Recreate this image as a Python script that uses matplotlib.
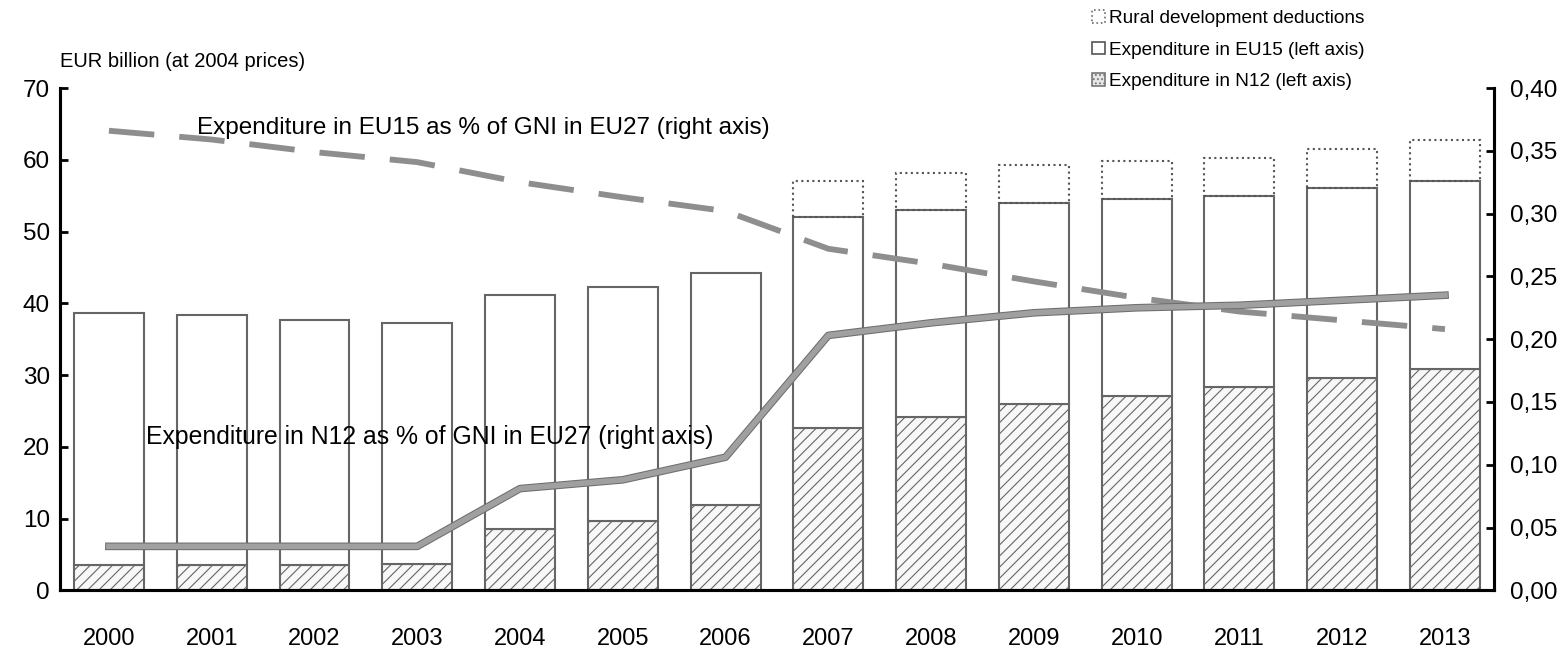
import matplotlib
matplotlib.use('Agg')
import matplotlib.pyplot as plt
from matplotlib.patches import Patch
from matplotlib import patheffects as pe
import numpy as np

years = ['2000', '2001', '2002', '2003', '2004', '2005', '2006',
         '2007', '2008', '2009', '2010', '2011', '2012', '2013']
# EUR billion, stacked: N12 at the bottom, EU15 on top, rural deductions above
n12_exp = [3.5, 3.5, 3.5, 3.7, 8.5, 9.7, 11.9, 22.6, 24.2, 25.9, 27.1, 28.3, 29.6, 30.8]
eu15_exp = [35.2, 34.8, 34.2, 33.5, 32.7, 32.6, 32.3, 29.4, 28.8, 28.1, 27.4, 26.7, 26.4, 26.2]
rural_ded = [0, 0, 0, 0, 0, 0, 0, 5.0, 5.2, 5.3, 5.3, 5.3, 5.5, 5.7]
# % of GNI in EU27 (right axis)
eu15_share = [0.366, 0.359, 0.349, 0.341, 0.325, 0.313, 0.302,
              0.272, 0.260, 0.246, 0.233, 0.222, 0.215, 0.208]
n12_share = [0.035, 0.035, 0.035, 0.035, 0.081, 0.088, 0.106,
             0.203, 0.213, 0.221, 0.225, 0.227, 0.231, 0.235]

left_ticks = [0, 10, 20, 30, 40, 50, 60, 70]
right_ticks = [0.0, 0.05, 0.10, 0.15, 0.20, 0.25, 0.30, 0.35, 0.40]
right_labels = ['0,00', '0,05', '0,10', '0,15', '0,20', '0,25', '0,30', '0,35', '0,40']

FONT = 'Liberation Sans'
EDGE = '#666666'
LINE = '#8e8e8e'


if __name__ == "__main__":
    plt.rcParams['font.family'] = [FONT, 'DejaVu Sans']
    plt.rcParams['hatch.color'] = '#d0d0d0'
    plt.rcParams['hatch.linewidth'] = 0.8

    fig = plt.figure(figsize=(15.68, 6.67), dpi=100)
    ax = fig.add_axes([0.038, 0.115, 0.915, 0.753])
    ax2 = ax.twinx()

    x = np.arange(len(years))
    n12 = np.array(n12_exp)
    eu15 = np.array(eu15_exp)
    rural = np.array(rural_ded)
    w = 0.68

    ax.bar(x, n12, w, color='#f8f8f8', edgecolor=EDGE, linewidth=1.5,
           hatch='///', zorder=2)
    ax.bar(x, eu15, w, bottom=n12, color='white', edgecolor=EDGE,
           linewidth=1.5, zorder=2)
    has_rd = rural > 0
    ax.bar(x[has_rd], rural[has_rd], w, bottom=(n12 + eu15)[has_rd],
           fill=False, edgecolor='#555555', linewidth=1.5, linestyle=':',
           zorder=2)

    ax.set_xlim(-0.48, len(years) - 0.52)
    ax.set_ylim(0, 70)
    ax.set_yticks(left_ticks)
    ax.set_xticks(x)
    ax.set_xticklabels(years)
    ax2.set_ylim(0, 0.40)
    ax2.set_yticks(right_ticks)
    ax2.set_yticklabels(right_labels)

    outline = [pe.Stroke(linewidth=5.5, foreground='#6e6e6e'), pe.Normal()]
    ax2.plot(x, eu15_share, color=LINE, linewidth=4.2,
             linestyle=(0, (7.8, 4.3)), zorder=3)
    ax2.plot(x, n12_share, color='#a0a0a0', linewidth=4.0,
             path_effects=outline, zorder=3)

    for a in (ax, ax2):
        a.spines['top'].set_visible(False)
        for s in ('left', 'right', 'bottom'):
            a.spines[s].set_linewidth(2.2)
        a.tick_params(axis='y', direction='in', length=6, width=2,
                      labelsize=17.5)
    ax.tick_params(axis='y', pad=7)
    ax.tick_params(axis='x', length=0, labelsize=17, pad=27)
    ax2.tick_params(axis='y', pad=11)

    ax.text(0.86, 64.4, 'Expenditure in EU15 as % of GNI in EU27 (right axis)',
            fontsize=17.5, va='center', ha='left', zorder=4)
    ax.text(0.36, 21.3, 'Expenditure in N12 as % of GNI in EU27 (right axis)',
            fontsize=17.8, va='center', ha='left', zorder=4)
    ax.text(0.0, 1.052, 'EUR billion (at 2004 prices)', transform=ax.transAxes,
            fontsize=14.5, va='center', ha='left')

    handles = [
        Patch(facecolor='white', edgecolor='#6a6a6a', linestyle=':', linewidth=1.2),
        Patch(facecolor='white', edgecolor='#555555', linewidth=1.2),
        Patch(facecolor='#e6e6e6', edgecolor='#777777', hatch='....', linewidth=1.2),
    ]
    labels = ['Rural development deductions', 'Expenditure in EU15 (left axis)',
              'Expenditure in N12 (left axis)']
    fig.legend(handles, labels, loc='upper left', bbox_to_anchor=(0.69, 1.0),
               frameon=False, fontsize=13.7, handlelength=0.65, handleheight=0.65,
               handletextpad=0.2, labelspacing=0.75, borderaxespad=0.15)

    fig.savefig('out.png', dpi=100)
